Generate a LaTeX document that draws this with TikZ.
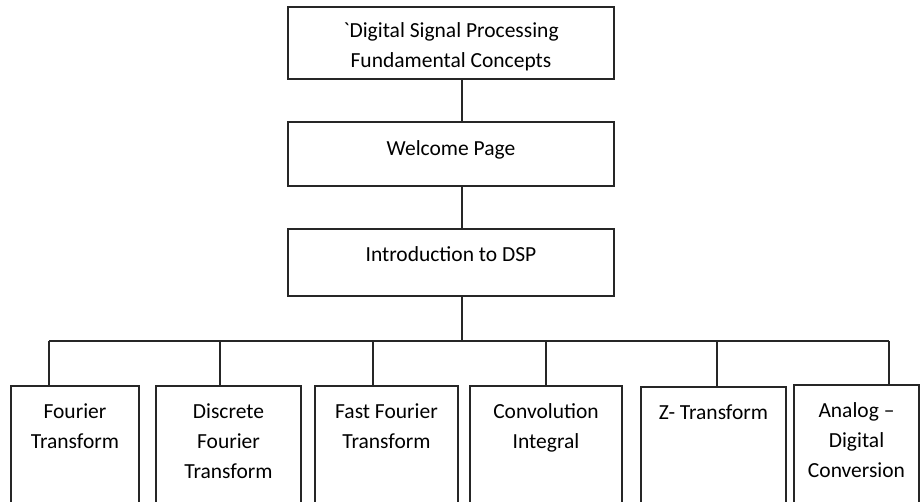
\documentclass[tikz,border=0pt]{standalone}
\usepackage{fontspec}
\setmainfont{Carlito}
\newfontfamily\rawfont{Carlito}[Ligatures=TeXOff]
\begin{document}
\begin{tikzpicture}[x=1pt,y=-1pt,
  line width=1.4pt,
  box/.style={draw=black!85, rectangle, inner sep=0pt, outer sep=0pt, anchor=north west},
  lbl/.style={anchor=north, inner sep=0pt, align=center, font=\fontsize{21.5}{30}\selectfont, text=black},
  link/.style={draw=black!85}]
\useasboundingbox (0,0) rectangle (921,502);
\clip (0,0) rectangle (921,502);

% upper column of pages
\node[box, minimum width=326pt, minimum height=72pt] (top) at (288,7) {};
\node[box, minimum width=326pt, minimum height=64pt] (welcome) at (288,122) {};
\node[box, minimum width=326pt, minimum height=67pt] (intro) at (288,229) {};

\node[lbl] (topt) at ([yshift=-9pt]top.north) {\strut{\rawfont`}Digital Signal Processing\\\strut Fundamental Concepts};
\node[lbl] (welcomet) at ([yshift=-12pt]welcome.north) {\strut Welcome Page};
\node[lbl] (introt) at ([yshift=-11pt]intro.north) {\strut Introduction to DSP};

% topic pages along the bottom
\node[box, minimum width=128pt, minimum height=140pt] (b1) at (11,386) {};
\node[box, minimum width=145pt, minimum height=140pt] (b2) at (156,386) {};
\node[box, minimum width=143pt, minimum height=140pt] (b3) at (315,386) {};
\node[box, minimum width=152pt, minimum height=140pt] (b4) at (470,386) {};
\node[box, minimum width=145pt, minimum height=140pt] (b5) at (641,387) {};
\node[box, minimum width=125pt, minimum height=140pt] (b6) at (794,385) {};

\node[lbl] (b1t) at ([yshift=-11pt]b1.north) {\strut Fourier\\\strut Transform};
\node[lbl] (b2t) at ([yshift=-11pt]b2.north) {\strut Discrete\\\strut Fourier\\\strut Transform};
\node[lbl] (b3t) at ([yshift=-11pt]b3.north) {\strut Fast Fourier\\\strut Transform};
\node[lbl] (b4t) at ([yshift=-11pt]b4.north) {\strut Convolution\\\strut Integral};
\node[lbl] (b5t) at ([yshift=-11pt]b5.north) {\strut Z- Transform};
\node[lbl] (b6t) at ([yshift=-11pt]b6.north) {\strut Analog \textendash\\\strut Digital\\\strut Conversion};

% connectors
\coordinate (spine) at (462,0);
\coordinate (j1) at (49,341);
\coordinate (j2) at (220,341);
\coordinate (j3) at (373,341);
\coordinate (j4) at (546,341);
\coordinate (j5) at (717,341);
\coordinate (j6) at (889,341);

\draw[link] (spine |- top.south) -- (spine |- welcome.north);
\draw[link] (spine |- welcome.south) -- (spine |- intro.north);
\draw[link] (spine |- intro.south) -- (spine |- j1);
\draw[link] (j1) -- (j6);
\draw[link] (j1) -- (j1 |- b1.north);
\draw[link] (j2) -- (j2 |- b2.north);
\draw[link] (j3) -- (j3 |- b3.north);
\draw[link] (j4) -- (j4 |- b4.north);
\draw[link] (j5) -- (j5 |- b5.north);
\draw[link] (j6) -- (j6 |- b6.north);
\end{tikzpicture}
\end{document}
